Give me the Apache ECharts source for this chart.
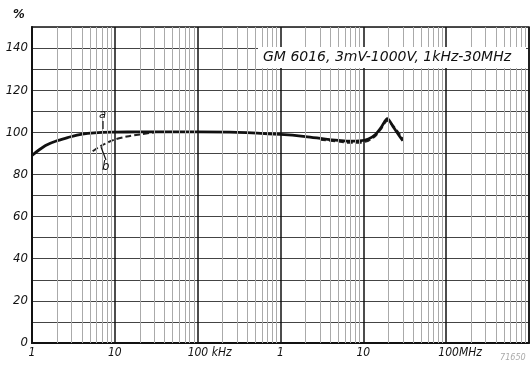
<!DOCTYPE html>
<html>
<head>
<meta charset="utf-8">
<script src="https://cdn.jsdelivr.net/npm/echarts@6/dist/echarts.min.js"></script>
<style>
  html, body { margin: 0; padding: 0; background: #fff; }
  #chart { width: 532px; height: 368px; }
</style>
</head>
<body>
<div id="chart"></div>
<script>
// Frequenzgang GM 6016 (Frequenz in kHz, Anzeige in %)
var freqA = [1, 1.2, 1.5, 2, 2.7, 3.5, 4.7, 7, 10, 20, 50, 100, 300, 1000, 2000, 3500, 5000, 7000, 9000, 11500, 14000, 16500, 19500, 23000, 27000, 30000];
var valA  = [89, 91.5, 94, 96, 97.5, 98.7, 99.5, 100, 100.1, 100.2, 100.2, 100.2, 100, 99, 98, 96.8, 96.2, 95.8, 95.9, 96.8, 99, 102.5, 106.5, 102.5, 98.5, 96];

var freqB = [5.4, 6.8, 10, 14, 20, 30, null, 3000, 5000, 7000, 9000, 11500, 14000, 16500, 19500, 23000, 27000, 30000];
var valB  = [91, 93.6, 96.6, 98, 99, 100, null, 96.5, 95.6, 95, 95.1, 96, 98.3, 101.8, 105.5, 103, 99.5, 97];

var minorFreqs = [];
[1, 10, 100, 1000, 10000, 100000].forEach(function (d) {
  for (var k = 2; k <= 9; k++) minorFreqs.push(k * d);
});

var xLabels = { 1: '1', 10: '10', 100: '{p|}100 kHz', 1000: '1', 10000: '10', 100000: '{q|}100MHz' };
var yLabelStep = 20;

function pairs(xs, ys) {
  return xs.map(function (x, i) { return x === null ? null : [x, ys[i]]; });
}

var labelFont = 'DejaVu Sans Condensed, DejaVu Sans, sans-serif';

var myChart = echarts.init(document.getElementById('chart'));

var option = {
  animation: false,
  backgroundColor: '#fff',
  grid: { left: 32, right: 2, top: 27, bottom: 25, show: true, borderColor: '#111', borderWidth: 1.5 },
  xAxis: {
    type: 'log',
    logBase: 10,
    min: 1,
    max: 1000000,
    axisLine: { show: true, lineStyle: { color: '#111', width: 2 } },
    axisTick: { show: false },
    splitLine: { show: true, lineStyle: { color: '#111', width: 1.5 } },
    axisLabel: {
      margin: 4,
      color: '#111',
      fontSize: 12,
      fontStyle: 'italic',
      fontFamily: labelFont,
      formatter: function (v) { return xLabels[Math.round(v)] || ''; },
      rich: {
        p: { width: 24 },
        q: { width: 28 }
      }
    }
  },
  yAxis: {
    type: 'value',
    min: 0,
    max: 150,
    interval: 10,
    axisLine: { show: true, lineStyle: { color: '#111', width: 2 } },
    axisTick: { show: false },
    splitLine: { show: true, lineStyle: { color: '#444', width: 1 } },
    axisLabel: {
      margin: 4,
      color: '#111',
      fontSize: 13,
      fontStyle: 'italic',
      fontFamily: labelFont,
      formatter: function (v) { return (v % yLabelStep === 0 && v < 150) ? String(v) : ''; }
    }
  },
  series: [
    {
      name: 'grid',
      type: 'line',
      data: [],
      silent: true,
      markLine: {
        silent: true,
        symbol: 'none',
        label: { show: false },
        lineStyle: { color: '#aaa', width: 1, type: 'solid' },
        data: minorFreqs.map(function (f) { return { xAxis: f }; })
      }
    },
    {
      name: 'b',
      type: 'line',
      data: pairs(freqB, valB),
      connectNulls: false,
      symbol: 'none',
      smooth: 0.3,
      lineStyle: { color: '#222', width: 2, type: [6, 3] },
      z: 3
    },
    {
      name: 'a',
      type: 'line',
      data: pairs(freqA, valA),
      symbol: 'none',
      smooth: 0.3,
      lineStyle: { color: '#111', width: 2.8 },
      z: 4
    }
  ],
  graphic: [
    { type: 'text', left: 13, top: 8, style: { text: '%', fontSize: 13, fontStyle: 'italic', fontWeight: 'bold', fontFamily: labelFont, fill: '#111' } },
    { type: 'rect', shape: { x: 258, y: 47, width: 268, height: 21 }, style: { fill: '#fff' }, z: 10 },
    { type: 'text', x: 263, y: 50, z: 11, style: { text: 'GM 6016, 3mV-1000V, 1kHz-30MHz', fontSize: 14, fontStyle: 'italic', fontFamily: 'DejaVu Sans, sans-serif', fill: '#111' } },
    { type: 'text', x: 99, y: 108, z: 11, style: { text: 'a', fontSize: 13, fontStyle: 'italic', fontFamily: labelFont, fill: '#111' } },
    { type: 'line', z: 11, shape: { x1: 103, y1: 121, x2: 103, y2: 129 }, style: { stroke: '#111', lineWidth: 1.2 } },
    { type: 'text', x: 102, y: 160, z: 11, style: { text: 'b', fontSize: 13, fontStyle: 'italic', fontFamily: labelFont, fill: '#111' } },
    { type: 'line', z: 11, shape: { x1: 106, y1: 160, x2: 101, y2: 147 }, style: { stroke: '#111', lineWidth: 1.2 } },
    { type: 'text', x: 500, y: 353, z: 11, style: { text: '71650', fontSize: 9, fontStyle: 'italic', fontFamily: labelFont, fill: '#aaa' } }
  ]
};

myChart.setOption(option);

window.addEventListener('resize', function () {
  myChart.resize();
});
</script>
</body>
</html>
